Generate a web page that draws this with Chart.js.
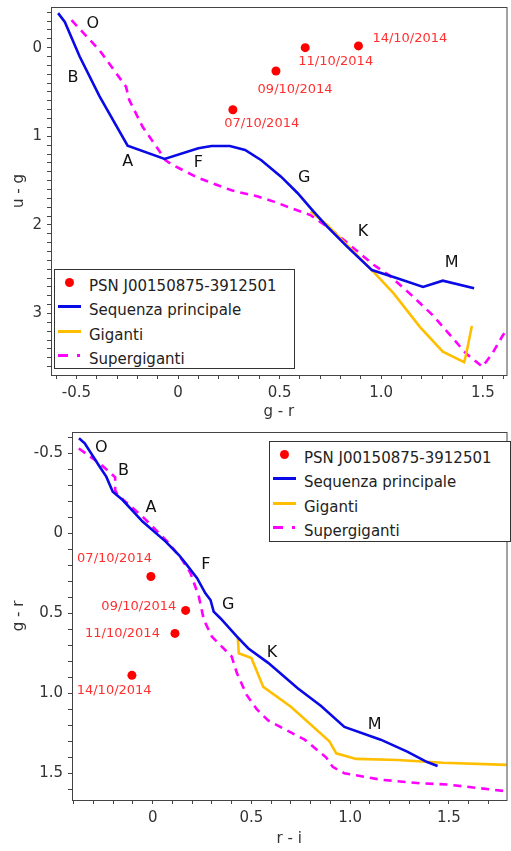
<!DOCTYPE html>
<html>
<head>
<meta charset="utf-8">
<script src="https://cdn.jsdelivr.net/npm/chart.js@4.4.1/dist/chart.umd.min.js"></script>
<style>
  body { margin:0; background:#fff; font-family:"DejaVu Sans", sans-serif; }
  .box { position:absolute; left:0; width:511px; }
  #box1 { top:0; height:425px; }
  #box2 { top:425px; height:426px; }
  .legend { position:absolute; border:1px solid #333; background:#fff; font-size:15px; color:#222; box-sizing:border-box; padding-top:4px; }
  .legend .row { height:24.3px; display:flex; align-items:center; white-space:nowrap; }
  .legend .sym { position:relative; top:-3.5px; width:24px; height:9px; margin:0 7px 0 3px; flex:none; }
  .legend .dot { position:absolute; left:7px; top:0; width:9px; height:9px; border-radius:50%; }
  .legend .bar { position:absolute; left:0; top:3px; width:23px; height:3px; }
  .legend .dash1 { position:absolute; left:0; top:3px; width:10px; height:3px; }
  .legend .dash2 { position:absolute; left:19px; top:3px; width:3px; height:3px; }
</style>
</head>
<body>
<div class="box" id="box1"><canvas id="c1" width="511" height="425"></canvas>
  <div class="legend" id="leg1" style="left:54px;top:269px;width:241px;height:100px"></div></div>
<div class="box" id="box2"><canvas id="c2" width="511" height="426"></canvas>
  <div class="legend" id="leg2" style="left:269px;top:16px;width:242px;height:101px"></div></div>
<script>
// PSN J00150875-3912501 photometry
const dates   = ['07/10/2014','09/10/2014','11/10/2014','14/10/2014'];
const psnGR   = [0.27, 0.482, 0.626, 0.888];
const psnUG   = [0.70, 0.263, 0.0, -0.02];
const psnRI   = [-0.009, 0.167, 0.113, -0.105];

// u-g vs g-r tracks
const msGR  = [-0.59,-0.557,-0.484,-0.386,-0.248,-0.066,0.10,0.165,0.255,0.33,0.41,0.507,0.588,0.66,0.734,0.832,0.954,1.075,1.206,1.303,1.457];
const msUG  = [-0.39,-0.29,0.10,0.55,1.106,1.256,1.135,1.11,1.11,1.155,1.27,1.456,1.64,1.83,2.02,2.246,2.51,2.60,2.70,2.63,2.716];
const gGR   = [0.653,0.734,0.832,0.946,1.06,1.19,1.303,1.408,1.417,1.446];
const gUG   = [1.85,2.0,2.23,2.49,2.77,3.15,3.43,3.55,3.47,3.14];
const sgGR  = [-0.524,-0.386,-0.256,-0.24,-0.175,-0.061,-0.03,0.10,0.263,0.393,0.475,0.556,0.652,0.734,0.832,0.962,1.04,1.157,1.254,1.368,1.417,1.498,1.547,1.595,1.62];
const sgUG  = [-0.31,0.03,0.44,0.59,0.89,1.27,1.32,1.47,1.61,1.68,1.74,1.81,1.89,2.02,2.2,2.45,2.57,2.81,3.02,3.32,3.45,3.60,3.45,3.26,3.17];

// g-r vs r-i tracks
const msRI  = [-0.373,-0.344,-0.269,-0.235,-0.202,-0.152,-0.051,0.066,0.133,0.167,0.225,0.267,0.293,0.309,0.343,0.427,0.485,0.585,0.736,0.853,0.971,1.155,1.289,1.39,1.443];
const msGR2 = [-0.594,-0.5625,-0.417,-0.354,-0.26,-0.208,-0.073,0.052,0.136,0.188,0.281,0.375,0.417,0.49,0.531,0.646,0.72,0.81,0.97,1.08,1.21,1.29,1.365,1.43,1.454];
const gRI   = [0.431,0.436,0.50,0.56,0.70,0.895,0.93,1.03,1.24,1.47,1.80];
const gGR2  = [0.646,0.75,0.78,0.96,1.084,1.30,1.375,1.41,1.417,1.434,1.448];
const sgRI  = [-0.374,-0.269,-0.19,-0.19,-0.177,-0.051,0.083,0.15,0.192,0.234,0.259,0.30,0.40,0.427,0.476,0.527,0.585,0.77,0.878,0.912,0.971,1.155,1.356,1.49,1.775];
const sgGR2 = [-0.53,-0.4375,-0.35,-0.27,-0.24,-0.104,0.0625,0.167,0.25,0.396,0.54,0.646,0.77,0.875,1.01,1.10,1.17,1.29,1.40,1.46,1.50,1.54,1.5625,1.57,1.61];

// spectral class letters (where they sit in each diagram)
const classes = ['O','B','A','F','G','K','M'];
const clsGR1 = [-0.419,-0.517,-0.248,0.10,0.621,0.91,1.347];
const clsUG1 = [-0.27,0.345,1.29,1.30,1.47,2.08,2.43];
const clsRI2 = [-0.26,-0.148,-0.009,0.27,0.383,0.604,1.124];
const clsGR2 = [-0.537,-0.39,-0.156,0.20,0.448,0.746,1.20];
// date label anchors
const dGR1 = [0.412,0.576,0.776,1.141];
const dUG1 = [0.861,0.47,0.161,-0.10];
const dRI2 = [-0.193,-0.07,-0.153,-0.195];
const dGR2 = [0.16,0.459,0.629,0.984];

// labelled ticks (minor ticks every 0.1 in between)
const xTicks1 = [-0.5, 0, 0.5, 1.0, 1.5];
const xLabels1 = ['-0.5','0','0.5','1.0','1.5'];
const yTicks1 = [0, 1, 2, 3];
const yLabels1 = ['0','1','2','3'];
const xTicks2 = [0, 0.5, 1.0, 1.5];
const xLabels2 = ['0','0.5','1.0','1.5'];
const yTicks2 = [-0.5, 0, 0.5, 1.0, 1.5];
const yLabels2 = ['-0.5','0','0.5','1.0','1.5'];

const names = ['PSN J00150875-3912501','Sequenza principale','Giganti','Supergiganti'];
const FONT = '"DejaVu Sans", sans-serif';
const AX = '#444';

const xy = (xs, ys) => xs.map((v,i)=>({x:v, y:ys[i]}));

function axis(min, max, title, major, labels, rev, fitSize, isY, tpad){
  return {
    type:'linear', min:min, max:max, reverse:rev, bounds:'data',
    border:{display:true, color:AX, width:1},
    grid:{display:true, drawOnChartArea:false, drawTicks:true, tickLength:4, color:AX},
    ticks:{autoSkip:false, maxRotation:0, padding:5, color:'#333', font:{family:FONT, size:15},
      callback: v => { const i = major.findIndex(m => Math.abs(m - v) < 1e-6); return i < 0 ? '' : labels[i]; }},
    title:{display:true, text:title, color:'#333', font:{family:FONT, size:15}, padding:tpad},
    afterBuildTicks: s => {
      const t = [];
      for(let k = Math.ceil(min*10 - 1e-9); k <= Math.floor(max*10 + 1e-9); k++) t.push({value:k/10});
      s.ticks = t;
    },
    afterFit: s => {
      // fixed axis box, no extra padding from edge labels
      if(isY) s.width = fitSize; else s.height = fitSize;
      s.paddingTop = s.paddingBottom = s.paddingLeft = s.paddingRight = 0;
    }
  };
}

const frame = {
  id:'frame',
  afterDraw(chart){
    const a = chart.chartArea, ctx = chart.ctx;
    ctx.save(); ctx.strokeStyle = AX; ctx.lineWidth = 1;
    ctx.strokeRect(Math.round(a.left)+0.5, Math.round(a.top)+0.5, a.right-a.left, a.bottom-a.top);
    ctx.restore();
  }
};

const marks = {
  id:'marks',
  afterDatasetsDraw(chart, args, o){
    const {ctx, scales:{x, y}} = chart;
    ctx.save();
    ctx.textAlign = 'center'; ctx.textBaseline = 'middle';
    o.groups.forEach(g => {
      ctx.font = g.size + 'px ' + FONT; ctx.fillStyle = g.color;
      g.text.forEach((t,i) => ctx.fillText(t, x.getPixelForValue(g.xs[i]), y.getPixelForValue(g.ys[i])));
    });
    ctx.restore();
  }
};

function sets(px, py, mx, my, gx, gy, sx, sy){
  return [
    {label:names[0], data:xy(px,py), showLine:false, pointRadius:4.5, pointBackgroundColor:'#f00', pointBorderWidth:0, backgroundColor:'#f00'},
    {label:names[1], data:xy(mx,my), showLine:true, pointRadius:0, borderColor:'#0a0ae6', borderWidth:2.6, tension:0, order:2},
    {label:names[2], data:xy(gx,gy), showLine:true, pointRadius:0, borderColor:'#ffbf00', borderWidth:2.6, tension:0, order:3},
    {label:names[3], data:xy(sx,sy), showLine:true, pointRadius:0, borderColor:'#ff00ff', borderWidth:2.6, borderDash:[8,6], tension:0, order:4}
  ];
}

function baseOpts(padTop){
  return {
    responsive:false, animation:false,
    layout:{padding:{top:padTop, right:0, left:0, bottom:0}},
    plugins:{legend:{display:false}, tooltip:{enabled:false}}
  };
}

const o1 = baseOpts(7);
o1.scales = {
  x: axis(-0.625, 1.6165, 'g - r', xTicks1, xLabels1, false, 50, false, {top:0, bottom:4}),
  y: axis(-0.459, 3.694, 'u - g', yTicks1, yLabels1, true, 51, true, {top:10, bottom:0})
};
o1.plugins.marks = {groups:[
  {text:classes, xs:clsGR1, ys:clsUG1, size:16, color:'#111'},
  {text:dates, xs:dGR1, ys:dUG1, size:13, color:'#ff3030'}
]};
const chart1 = new Chart(document.getElementById('c1'), {
  type:'scatter',
  data:{datasets:sets(psnGR, psnUG, msGR, msUG, gGR, gUG, sgGR, sgUG)},
  options:o1, plugins:[frame, marks]
});

const o2 = baseOpts(7);
o2.scales = {
  x: axis(-0.4085, 1.792, 'r - i', xTicks2, xLabels2, false, 51, false, {top:0, bottom:3}),
  y: axis(-0.633, 1.667, 'g - r', yTicks2, yLabels2, true, 72, true, {top:10, bottom:0})
};
o2.plugins.marks = {groups:[
  {text:classes, xs:clsRI2, ys:clsGR2, size:16, color:'#111'},
  {text:dates, xs:dRI2, ys:dGR2, size:13, color:'#ff3030'}
]};
const chart2 = new Chart(document.getElementById('c2'), {
  type:'scatter',
  data:{datasets:sets(psnRI, psnGR, msRI, msGR2, gRI, gGR2, sgRI, sgGR2)},
  options:o2, plugins:[frame, marks]
});

function legend(chart, el){
  chart.data.datasets.forEach((d,i) => {
    const row = document.createElement('div'); row.className = 'row';
    const sym = document.createElement('span'); sym.className = 'sym';
    if(i === 0) sym.innerHTML = '<span class="dot" style="background:'+d.pointBackgroundColor+'"></span>';
    else if(d.borderDash) sym.innerHTML = '<span class="dash1" style="background:'+d.borderColor+'"></span><span class="dash2" style="background:'+d.borderColor+'"></span>';
    else sym.innerHTML = '<span class="bar" style="background:'+d.borderColor+'"></span>';
    const t = document.createElement('span'); t.textContent = d.label;
    row.appendChild(sym); row.appendChild(t); el.appendChild(row);
  });
}
legend(chart1, document.getElementById('leg1'));
legend(chart2, document.getElementById('leg2'));
</script>
</body>
</html>
